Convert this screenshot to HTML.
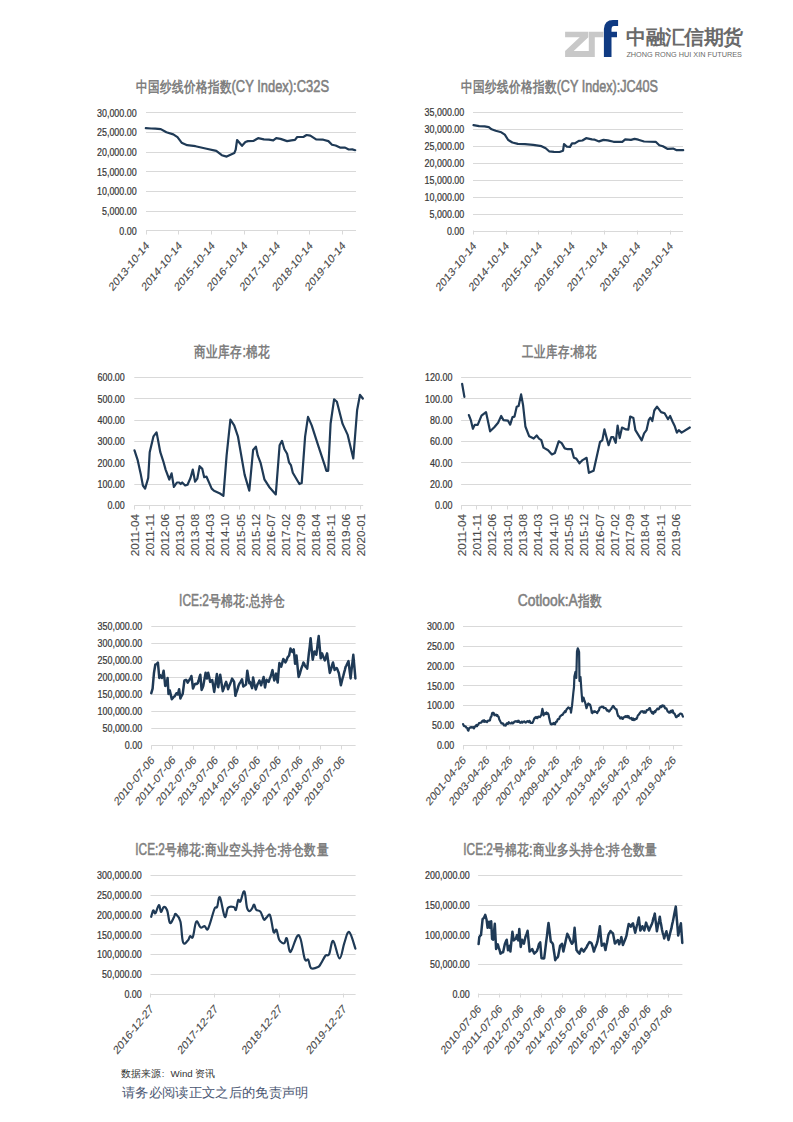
<!DOCTYPE html><html><head><meta charset="utf-8"><style>html,body{margin:0;padding:0;background:#fff;width:793px;height:1122px;overflow:hidden}svg{display:block}</style></head><body>
<svg width="793" height="1122" viewBox="0 0 793 1122" font-family="&quot;Liberation Sans&quot;, sans-serif">
<text transform="translate(136.00,92) scale(1,1.25)" font-size="12.3" font-weight="bold" fill="#7f7f7f" stroke="#7f7f7f" stroke-width="0" textLength="95.55" lengthAdjust="spacingAndGlyphs">中国纱线价格指数</text>
<text transform="translate(231.55,92) scale(1,1.25)" font-size="12.5" fill="#7f7f7f" stroke="#7f7f7f" stroke-width="0.45" textLength="97.45" lengthAdjust="spacingAndGlyphs">(CY Index):C32S</text>
<line x1="146" y1="112.5" x2="356" y2="112.5" stroke="#d9d9d9" stroke-width="1"/>
<text transform="translate(97.0,116.6) scale(1,1.23)" font-size="9" fill="#383838" stroke="#383838" stroke-width="0.2" textLength="39.7" lengthAdjust="spacingAndGlyphs">30,000.00</text>
<line x1="146" y1="132.5" x2="356" y2="132.5" stroke="#d9d9d9" stroke-width="1"/>
<text transform="translate(97.0,136.2) scale(1,1.23)" font-size="9" fill="#383838" stroke="#383838" stroke-width="0.2" textLength="39.7" lengthAdjust="spacingAndGlyphs">25,000.00</text>
<line x1="146" y1="152.5" x2="356" y2="152.5" stroke="#d9d9d9" stroke-width="1"/>
<text transform="translate(97.0,155.9) scale(1,1.23)" font-size="9" fill="#383838" stroke="#383838" stroke-width="0.2" textLength="39.7" lengthAdjust="spacingAndGlyphs">20,000.00</text>
<line x1="146" y1="171.5" x2="356" y2="171.5" stroke="#d9d9d9" stroke-width="1"/>
<text transform="translate(97.0,175.6) scale(1,1.23)" font-size="9" fill="#383838" stroke="#383838" stroke-width="0.2" textLength="39.7" lengthAdjust="spacingAndGlyphs">15,000.00</text>
<line x1="146" y1="191.5" x2="356" y2="191.5" stroke="#d9d9d9" stroke-width="1"/>
<text transform="translate(97.0,195.2) scale(1,1.23)" font-size="9" fill="#383838" stroke="#383838" stroke-width="0.2" textLength="39.7" lengthAdjust="spacingAndGlyphs">10,000.00</text>
<line x1="146" y1="211.5" x2="356" y2="211.5" stroke="#d9d9d9" stroke-width="1"/>
<text transform="translate(102.0,214.8) scale(1,1.23)" font-size="9" fill="#383838" stroke="#383838" stroke-width="0.2" textLength="34.7" lengthAdjust="spacingAndGlyphs">5,000.00</text>
<line x1="146" y1="230.5" x2="356" y2="230.5" stroke="#d9d9d9" stroke-width="1"/>
<text transform="translate(119.3,234.5) scale(1,1.23)" font-size="9" fill="#383838" stroke="#383838" stroke-width="0.2" textLength="17.4" lengthAdjust="spacingAndGlyphs">0.00</text>
<line x1="146.5" y1="230.5" x2="146.5" y2="234.5" stroke="#d9d9d9" stroke-width="1"/>
<line x1="178.5" y1="230.5" x2="178.5" y2="234.5" stroke="#d9d9d9" stroke-width="1"/>
<line x1="211.5" y1="230.5" x2="211.5" y2="234.5" stroke="#d9d9d9" stroke-width="1"/>
<line x1="244.5" y1="230.5" x2="244.5" y2="234.5" stroke="#d9d9d9" stroke-width="1"/>
<line x1="277.5" y1="230.5" x2="277.5" y2="234.5" stroke="#d9d9d9" stroke-width="1"/>
<line x1="309.5" y1="230.5" x2="309.5" y2="234.5" stroke="#d9d9d9" stroke-width="1"/>
<line x1="342.5" y1="230.5" x2="342.5" y2="234.5" stroke="#d9d9d9" stroke-width="1"/>
<text transform="translate(149.8,246.3) scale(1,1.23) rotate(-45)" x="-52.3" y="0" font-size="9.6" fill="#4a4a4a" stroke="#4a4a4a" stroke-width="0.1" textLength="52.3" lengthAdjust="spacingAndGlyphs">2013-10-14</text>
<text transform="translate(182.5,246.3) scale(1,1.23) rotate(-45)" x="-52.3" y="0" font-size="9.6" fill="#4a4a4a" stroke="#4a4a4a" stroke-width="0.1" textLength="52.3" lengthAdjust="spacingAndGlyphs">2014-10-14</text>
<text transform="translate(215.2,246.3) scale(1,1.23) rotate(-45)" x="-52.3" y="0" font-size="9.6" fill="#4a4a4a" stroke="#4a4a4a" stroke-width="0.1" textLength="52.3" lengthAdjust="spacingAndGlyphs">2015-10-14</text>
<text transform="translate(247.9,246.3) scale(1,1.23) rotate(-45)" x="-52.3" y="0" font-size="9.6" fill="#4a4a4a" stroke="#4a4a4a" stroke-width="0.1" textLength="52.3" lengthAdjust="spacingAndGlyphs">2016-10-14</text>
<text transform="translate(280.6,246.3) scale(1,1.23) rotate(-45)" x="-52.3" y="0" font-size="9.6" fill="#4a4a4a" stroke="#4a4a4a" stroke-width="0.1" textLength="52.3" lengthAdjust="spacingAndGlyphs">2017-10-14</text>
<text transform="translate(313.3,246.3) scale(1,1.23) rotate(-45)" x="-52.3" y="0" font-size="9.6" fill="#4a4a4a" stroke="#4a4a4a" stroke-width="0.1" textLength="52.3" lengthAdjust="spacingAndGlyphs">2018-10-14</text>
<text transform="translate(346.0,246.3) scale(1,1.23) rotate(-45)" x="-52.3" y="0" font-size="9.6" fill="#4a4a4a" stroke="#4a4a4a" stroke-width="0.1" textLength="52.3" lengthAdjust="spacingAndGlyphs">2019-10-14</text>
<polyline points="145.8,128.2 151.1,128.5 155.3,128.6 160.8,129.1 166.4,132.3 173.3,134.4 177.5,137.2 181.6,142.7 187.2,145.2 195.5,146.2 206.6,148.7 216.3,150.8 221.8,155.2 226.7,156.6 234.3,153.1 235.7,149.7 237.1,140.0 242.0,145.8 245.4,142.0 247.9,141.1 253.7,140.8 258.1,138.2 263.9,139.4 268.9,139.7 273.3,140.4 276.2,138.2 280.5,138.9 287.1,141.1 291.4,140.4 295.0,139.9 297.2,137.0 303.7,136.8 306.6,135.0 310.3,135.6 316.1,139.4 323.3,139.7 328.4,141.1 332.0,144.7 335.6,145.5 340.0,147.6 345.1,147.6 348.7,149.5 352.3,149.4 355.2,150.2" fill="none" stroke="#1f3a56" stroke-width="2.2" stroke-linejoin="round" stroke-linecap="round"/>
<text transform="translate(460.60,92) scale(1,1.25)" font-size="12.3" font-weight="bold" fill="#7f7f7f" stroke="#7f7f7f" stroke-width="0" textLength="96.05" lengthAdjust="spacingAndGlyphs">中国纱线价格指数</text>
<text transform="translate(556.65,92) scale(1,1.25)" font-size="12.5" fill="#7f7f7f" stroke="#7f7f7f" stroke-width="0.45" textLength="101.35" lengthAdjust="spacingAndGlyphs">(CY Index):JC40S</text>
<line x1="473" y1="112.5" x2="683" y2="112.5" stroke="#d9d9d9" stroke-width="1"/>
<text transform="translate(424.6,116.4) scale(1,1.23)" font-size="9" fill="#383838" stroke="#383838" stroke-width="0.2" textLength="39.7" lengthAdjust="spacingAndGlyphs">35,000.00</text>
<line x1="473" y1="129.5" x2="683" y2="129.5" stroke="#d9d9d9" stroke-width="1"/>
<text transform="translate(424.6,133.3) scale(1,1.23)" font-size="9" fill="#383838" stroke="#383838" stroke-width="0.2" textLength="39.7" lengthAdjust="spacingAndGlyphs">30,000.00</text>
<line x1="473" y1="146.5" x2="683" y2="146.5" stroke="#d9d9d9" stroke-width="1"/>
<text transform="translate(424.6,150.2) scale(1,1.23)" font-size="9" fill="#383838" stroke="#383838" stroke-width="0.2" textLength="39.7" lengthAdjust="spacingAndGlyphs">25,000.00</text>
<line x1="473" y1="163.5" x2="683" y2="163.5" stroke="#d9d9d9" stroke-width="1"/>
<text transform="translate(424.6,167.1) scale(1,1.23)" font-size="9" fill="#383838" stroke="#383838" stroke-width="0.2" textLength="39.7" lengthAdjust="spacingAndGlyphs">20,000.00</text>
<line x1="473" y1="180.5" x2="683" y2="180.5" stroke="#d9d9d9" stroke-width="1"/>
<text transform="translate(424.6,184.1) scale(1,1.23)" font-size="9" fill="#383838" stroke="#383838" stroke-width="0.2" textLength="39.7" lengthAdjust="spacingAndGlyphs">15,000.00</text>
<line x1="473" y1="197.5" x2="683" y2="197.5" stroke="#d9d9d9" stroke-width="1"/>
<text transform="translate(424.6,201.0) scale(1,1.23)" font-size="9" fill="#383838" stroke="#383838" stroke-width="0.2" textLength="39.7" lengthAdjust="spacingAndGlyphs">10,000.00</text>
<line x1="473" y1="214.5" x2="683" y2="214.5" stroke="#d9d9d9" stroke-width="1"/>
<text transform="translate(429.6,217.9) scale(1,1.23)" font-size="9" fill="#383838" stroke="#383838" stroke-width="0.2" textLength="34.7" lengthAdjust="spacingAndGlyphs">5,000.00</text>
<line x1="473" y1="231.5" x2="683" y2="231.5" stroke="#d9d9d9" stroke-width="1"/>
<text transform="translate(446.9,234.8) scale(1,1.23)" font-size="9" fill="#383838" stroke="#383838" stroke-width="0.2" textLength="17.4" lengthAdjust="spacingAndGlyphs">0.00</text>
<line x1="473.5" y1="230.5" x2="473.5" y2="234.5" stroke="#d9d9d9" stroke-width="1"/>
<line x1="506.5" y1="230.5" x2="506.5" y2="234.5" stroke="#d9d9d9" stroke-width="1"/>
<line x1="538.5" y1="230.5" x2="538.5" y2="234.5" stroke="#d9d9d9" stroke-width="1"/>
<line x1="571.5" y1="230.5" x2="571.5" y2="234.5" stroke="#d9d9d9" stroke-width="1"/>
<line x1="604.5" y1="230.5" x2="604.5" y2="234.5" stroke="#d9d9d9" stroke-width="1"/>
<line x1="637.5" y1="230.5" x2="637.5" y2="234.5" stroke="#d9d9d9" stroke-width="1"/>
<line x1="670.5" y1="230.5" x2="670.5" y2="234.5" stroke="#d9d9d9" stroke-width="1"/>
<text transform="translate(476.8,246.6) scale(1,1.23) rotate(-45)" x="-52.3" y="0" font-size="9.6" fill="#4a4a4a" stroke="#4a4a4a" stroke-width="0.1" textLength="52.3" lengthAdjust="spacingAndGlyphs">2013-10-14</text>
<text transform="translate(509.6,246.6) scale(1,1.23) rotate(-45)" x="-52.3" y="0" font-size="9.6" fill="#4a4a4a" stroke="#4a4a4a" stroke-width="0.1" textLength="52.3" lengthAdjust="spacingAndGlyphs">2014-10-14</text>
<text transform="translate(542.4,246.6) scale(1,1.23) rotate(-45)" x="-52.3" y="0" font-size="9.6" fill="#4a4a4a" stroke="#4a4a4a" stroke-width="0.1" textLength="52.3" lengthAdjust="spacingAndGlyphs">2015-10-14</text>
<text transform="translate(575.2,246.6) scale(1,1.23) rotate(-45)" x="-52.3" y="0" font-size="9.6" fill="#4a4a4a" stroke="#4a4a4a" stroke-width="0.1" textLength="52.3" lengthAdjust="spacingAndGlyphs">2016-10-14</text>
<text transform="translate(608.0,246.6) scale(1,1.23) rotate(-45)" x="-52.3" y="0" font-size="9.6" fill="#4a4a4a" stroke="#4a4a4a" stroke-width="0.1" textLength="52.3" lengthAdjust="spacingAndGlyphs">2017-10-14</text>
<text transform="translate(640.8,246.6) scale(1,1.23) rotate(-45)" x="-52.3" y="0" font-size="9.6" fill="#4a4a4a" stroke="#4a4a4a" stroke-width="0.1" textLength="52.3" lengthAdjust="spacingAndGlyphs">2018-10-14</text>
<text transform="translate(673.6,246.6) scale(1,1.23) rotate(-45)" x="-52.3" y="0" font-size="9.6" fill="#4a4a4a" stroke="#4a4a4a" stroke-width="0.1" textLength="52.3" lengthAdjust="spacingAndGlyphs">2019-10-14</text>
<polyline points="473.5,125.1 479.1,126.1 484.6,126.4 488.8,127.2 491.6,129.3 495.7,130.7 501.3,132.3 504.8,134.7 508.2,140.0 512.4,142.5 517.9,143.9 524.9,144.1 533.2,144.8 541.5,146.2 545.7,148.3 549.1,151.3 554.0,151.8 559.6,152.0 563.0,150.8 564.0,144.1 566.8,146.6 570.0,146.9 572.0,143.4 574.8,143.4 578.8,140.8 582.4,140.5 586.1,138.2 591.9,139.4 594.8,139.7 599.1,141.4 603.5,139.9 607.8,140.4 613.6,141.8 622.3,141.8 625.2,139.4 631.0,139.9 634.6,138.9 638.3,139.7 644.1,141.5 655.7,141.8 659.3,145.2 662.9,146.2 667.3,148.8 673.1,148.6 676.7,150.2 683.2,150.2" fill="none" stroke="#1f3a56" stroke-width="2.2" stroke-linejoin="round" stroke-linecap="round"/>
<text transform="translate(194.40,357) scale(1,1.25)" font-size="12.3" font-weight="bold" fill="#7f7f7f" stroke="#7f7f7f" stroke-width="0" textLength="48.06" lengthAdjust="spacingAndGlyphs">商业库存</text>
<text transform="translate(242.46,357) scale(1,1.25)" font-size="12.5" fill="#7f7f7f" stroke="#7f7f7f" stroke-width="0.45" textLength="3.50" lengthAdjust="spacingAndGlyphs">:</text>
<text transform="translate(245.97,357) scale(1,1.25)" font-size="12.3" font-weight="bold" fill="#7f7f7f" stroke="#7f7f7f" stroke-width="0" textLength="24.03" lengthAdjust="spacingAndGlyphs">棉花</text>
<line x1="134.3" y1="377.5" x2="363.2" y2="377.5" stroke="#d9d9d9" stroke-width="1"/>
<text transform="translate(97.5,381.4) scale(1,1.23)" font-size="9" fill="#383838" stroke="#383838" stroke-width="0.2" textLength="27.3" lengthAdjust="spacingAndGlyphs">600.00</text>
<line x1="134.3" y1="398.5" x2="363.2" y2="398.5" stroke="#d9d9d9" stroke-width="1"/>
<text transform="translate(97.5,402.7) scale(1,1.23)" font-size="9" fill="#383838" stroke="#383838" stroke-width="0.2" textLength="27.3" lengthAdjust="spacingAndGlyphs">500.00</text>
<line x1="134.3" y1="420.5" x2="363.2" y2="420.5" stroke="#d9d9d9" stroke-width="1"/>
<text transform="translate(97.5,424.0) scale(1,1.23)" font-size="9" fill="#383838" stroke="#383838" stroke-width="0.2" textLength="27.3" lengthAdjust="spacingAndGlyphs">400.00</text>
<line x1="134.3" y1="441.5" x2="363.2" y2="441.5" stroke="#d9d9d9" stroke-width="1"/>
<text transform="translate(97.5,445.4) scale(1,1.23)" font-size="9" fill="#383838" stroke="#383838" stroke-width="0.2" textLength="27.3" lengthAdjust="spacingAndGlyphs">300.00</text>
<line x1="134.3" y1="462.5" x2="363.2" y2="462.5" stroke="#d9d9d9" stroke-width="1"/>
<text transform="translate(97.5,466.7) scale(1,1.23)" font-size="9" fill="#383838" stroke="#383838" stroke-width="0.2" textLength="27.3" lengthAdjust="spacingAndGlyphs">200.00</text>
<line x1="134.3" y1="484.5" x2="363.2" y2="484.5" stroke="#d9d9d9" stroke-width="1"/>
<text transform="translate(97.5,488.0) scale(1,1.23)" font-size="9" fill="#383838" stroke="#383838" stroke-width="0.2" textLength="27.3" lengthAdjust="spacingAndGlyphs">100.00</text>
<line x1="134.3" y1="505.5" x2="363.2" y2="505.5" stroke="#d9d9d9" stroke-width="1"/>
<text transform="translate(107.4,509.3) scale(1,1.23)" font-size="9" fill="#383838" stroke="#383838" stroke-width="0.2" textLength="17.4" lengthAdjust="spacingAndGlyphs">0.00</text>
<line x1="134.5" y1="505.5" x2="134.5" y2="509.5" stroke="#d9d9d9" stroke-width="1"/>
<line x1="149.5" y1="505.5" x2="149.5" y2="509.5" stroke="#d9d9d9" stroke-width="1"/>
<line x1="164.5" y1="505.5" x2="164.5" y2="509.5" stroke="#d9d9d9" stroke-width="1"/>
<line x1="179.5" y1="505.5" x2="179.5" y2="509.5" stroke="#d9d9d9" stroke-width="1"/>
<line x1="194.5" y1="505.5" x2="194.5" y2="509.5" stroke="#d9d9d9" stroke-width="1"/>
<line x1="209.5" y1="505.5" x2="209.5" y2="509.5" stroke="#d9d9d9" stroke-width="1"/>
<line x1="224.5" y1="505.5" x2="224.5" y2="509.5" stroke="#d9d9d9" stroke-width="1"/>
<line x1="239.5" y1="505.5" x2="239.5" y2="509.5" stroke="#d9d9d9" stroke-width="1"/>
<line x1="254.5" y1="505.5" x2="254.5" y2="509.5" stroke="#d9d9d9" stroke-width="1"/>
<line x1="269.5" y1="505.5" x2="269.5" y2="509.5" stroke="#d9d9d9" stroke-width="1"/>
<line x1="285.5" y1="505.5" x2="285.5" y2="509.5" stroke="#d9d9d9" stroke-width="1"/>
<line x1="300.5" y1="505.5" x2="300.5" y2="509.5" stroke="#d9d9d9" stroke-width="1"/>
<line x1="315.5" y1="505.5" x2="315.5" y2="509.5" stroke="#d9d9d9" stroke-width="1"/>
<line x1="330.5" y1="505.5" x2="330.5" y2="509.5" stroke="#d9d9d9" stroke-width="1"/>
<line x1="345.5" y1="505.5" x2="345.5" y2="509.5" stroke="#d9d9d9" stroke-width="1"/>
<line x1="360.5" y1="505.5" x2="360.5" y2="509.5" stroke="#d9d9d9" stroke-width="1"/>
<text transform="translate(139.0,513.9) scale(1,1.23) rotate(-90)" x="-34.5" y="0" font-size="10.2" fill="#4a4a4a" stroke="#4a4a4a" stroke-width="0.1" textLength="34.5" lengthAdjust="spacingAndGlyphs">2011-04</text>
<text transform="translate(154.1,513.9) scale(1,1.23) rotate(-90)" x="-34.5" y="0" font-size="10.2" fill="#4a4a4a" stroke="#4a4a4a" stroke-width="0.1" textLength="34.5" lengthAdjust="spacingAndGlyphs">2011-11</text>
<text transform="translate(169.1,513.9) scale(1,1.23) rotate(-90)" x="-34.5" y="0" font-size="10.2" fill="#4a4a4a" stroke="#4a4a4a" stroke-width="0.1" textLength="34.5" lengthAdjust="spacingAndGlyphs">2012-06</text>
<text transform="translate(184.2,513.9) scale(1,1.23) rotate(-90)" x="-34.5" y="0" font-size="10.2" fill="#4a4a4a" stroke="#4a4a4a" stroke-width="0.1" textLength="34.5" lengthAdjust="spacingAndGlyphs">2013-01</text>
<text transform="translate(199.3,513.9) scale(1,1.23) rotate(-90)" x="-34.5" y="0" font-size="10.2" fill="#4a4a4a" stroke="#4a4a4a" stroke-width="0.1" textLength="34.5" lengthAdjust="spacingAndGlyphs">2013-08</text>
<text transform="translate(214.3,513.9) scale(1,1.23) rotate(-90)" x="-34.5" y="0" font-size="10.2" fill="#4a4a4a" stroke="#4a4a4a" stroke-width="0.1" textLength="34.5" lengthAdjust="spacingAndGlyphs">2014-03</text>
<text transform="translate(229.4,513.9) scale(1,1.23) rotate(-90)" x="-34.5" y="0" font-size="10.2" fill="#4a4a4a" stroke="#4a4a4a" stroke-width="0.1" textLength="34.5" lengthAdjust="spacingAndGlyphs">2014-10</text>
<text transform="translate(244.5,513.9) scale(1,1.23) rotate(-90)" x="-34.5" y="0" font-size="10.2" fill="#4a4a4a" stroke="#4a4a4a" stroke-width="0.1" textLength="34.5" lengthAdjust="spacingAndGlyphs">2015-05</text>
<text transform="translate(259.6,513.9) scale(1,1.23) rotate(-90)" x="-34.5" y="0" font-size="10.2" fill="#4a4a4a" stroke="#4a4a4a" stroke-width="0.1" textLength="34.5" lengthAdjust="spacingAndGlyphs">2015-12</text>
<text transform="translate(274.6,513.9) scale(1,1.23) rotate(-90)" x="-34.5" y="0" font-size="10.2" fill="#4a4a4a" stroke="#4a4a4a" stroke-width="0.1" textLength="34.5" lengthAdjust="spacingAndGlyphs">2016-07</text>
<text transform="translate(289.7,513.9) scale(1,1.23) rotate(-90)" x="-34.5" y="0" font-size="10.2" fill="#4a4a4a" stroke="#4a4a4a" stroke-width="0.1" textLength="34.5" lengthAdjust="spacingAndGlyphs">2017-02</text>
<text transform="translate(304.8,513.9) scale(1,1.23) rotate(-90)" x="-34.5" y="0" font-size="10.2" fill="#4a4a4a" stroke="#4a4a4a" stroke-width="0.1" textLength="34.5" lengthAdjust="spacingAndGlyphs">2017-09</text>
<text transform="translate(319.8,513.9) scale(1,1.23) rotate(-90)" x="-34.5" y="0" font-size="10.2" fill="#4a4a4a" stroke="#4a4a4a" stroke-width="0.1" textLength="34.5" lengthAdjust="spacingAndGlyphs">2018-04</text>
<text transform="translate(334.9,513.9) scale(1,1.23) rotate(-90)" x="-34.5" y="0" font-size="10.2" fill="#4a4a4a" stroke="#4a4a4a" stroke-width="0.1" textLength="34.5" lengthAdjust="spacingAndGlyphs">2018-11</text>
<text transform="translate(350.0,513.9) scale(1,1.23) rotate(-90)" x="-34.5" y="0" font-size="10.2" fill="#4a4a4a" stroke="#4a4a4a" stroke-width="0.1" textLength="34.5" lengthAdjust="spacingAndGlyphs">2019-06</text>
<text transform="translate(365.1,513.9) scale(1,1.23) rotate(-90)" x="-34.5" y="0" font-size="10.2" fill="#4a4a4a" stroke="#4a4a4a" stroke-width="0.1" textLength="34.5" lengthAdjust="spacingAndGlyphs">2020-01</text>
<polyline points="134.5,450.4 137.6,459.8 140.6,473.4 142.9,485.5 145.1,488.6 148.2,478.0 149.7,452.2 153.5,436.3 156.5,432.3 157.2,435.6 160.3,452.2 163.3,461.3 165.6,469.6 169.3,479.5 171.6,473.4 173.9,487.0 176.9,482.5 179.2,482.5 180.7,484.0 182.2,482.5 185.2,485.5 187.5,484.8 190.5,478.0 192.8,469.6 195.1,481.7 197.3,478.7 199.6,466.2 202.3,468.9 204.2,477.2 206.4,476.5 211.7,488.6 214.0,490.8 220.0,493.5 223.4,495.8 226.6,455.7 230.4,419.7 234.2,425.4 238.0,436.7 244.6,474.6 249.3,490.6 253.1,450.0 255.9,446.6 257.8,455.7 260.7,463.2 264.4,479.3 269.2,486.9 275.8,494.4 279.6,445.3 282.0,440.9 284.3,449.0 287.1,453.8 289.0,462.3 290.9,465.1 292.8,472.7 299.4,484.0 301.7,483.1 305.1,436.7 308.0,416.9 311.7,425.4 318.4,446.2 325.0,466.1 326.3,470.8 328.2,470.8 330.6,423.5 334.1,399.3 336.9,401.8 342.6,423.9 347.7,434.9 353.3,458.5 357.1,410.3 360.0,394.8 362.8,398.5" fill="none" stroke="#1f3a56" stroke-width="2.2" stroke-linejoin="round" stroke-linecap="round"/>
<text transform="translate(522.40,357) scale(1,1.25)" font-size="12.3" font-weight="bold" fill="#7f7f7f" stroke="#7f7f7f" stroke-width="0" textLength="47.43" lengthAdjust="spacingAndGlyphs">工业库存</text>
<text transform="translate(569.83,357) scale(1,1.25)" font-size="12.5" fill="#7f7f7f" stroke="#7f7f7f" stroke-width="0.45" textLength="3.46" lengthAdjust="spacingAndGlyphs">:</text>
<text transform="translate(573.29,357) scale(1,1.25)" font-size="12.3" font-weight="bold" fill="#7f7f7f" stroke="#7f7f7f" stroke-width="0" textLength="23.71" lengthAdjust="spacingAndGlyphs">棉花</text>
<line x1="461.1" y1="377.5" x2="691.1" y2="377.5" stroke="#d9d9d9" stroke-width="1"/>
<text transform="translate(425.1,381.4) scale(1,1.23)" font-size="9" fill="#383838" stroke="#383838" stroke-width="0.2" textLength="27.3" lengthAdjust="spacingAndGlyphs">120.00</text>
<line x1="461.1" y1="398.5" x2="691.1" y2="398.5" stroke="#d9d9d9" stroke-width="1"/>
<text transform="translate(425.1,402.7) scale(1,1.23)" font-size="9" fill="#383838" stroke="#383838" stroke-width="0.2" textLength="27.3" lengthAdjust="spacingAndGlyphs">100.00</text>
<line x1="461.1" y1="420.5" x2="691.1" y2="420.5" stroke="#d9d9d9" stroke-width="1"/>
<text transform="translate(430.1,424.0) scale(1,1.23)" font-size="9" fill="#383838" stroke="#383838" stroke-width="0.2" textLength="22.3" lengthAdjust="spacingAndGlyphs">80.00</text>
<line x1="461.1" y1="441.5" x2="691.1" y2="441.5" stroke="#d9d9d9" stroke-width="1"/>
<text transform="translate(430.1,445.4) scale(1,1.23)" font-size="9" fill="#383838" stroke="#383838" stroke-width="0.2" textLength="22.3" lengthAdjust="spacingAndGlyphs">60.00</text>
<line x1="461.1" y1="462.5" x2="691.1" y2="462.5" stroke="#d9d9d9" stroke-width="1"/>
<text transform="translate(430.1,466.7) scale(1,1.23)" font-size="9" fill="#383838" stroke="#383838" stroke-width="0.2" textLength="22.3" lengthAdjust="spacingAndGlyphs">40.00</text>
<line x1="461.1" y1="484.5" x2="691.1" y2="484.5" stroke="#d9d9d9" stroke-width="1"/>
<text transform="translate(430.1,488.0) scale(1,1.23)" font-size="9" fill="#383838" stroke="#383838" stroke-width="0.2" textLength="22.3" lengthAdjust="spacingAndGlyphs">20.00</text>
<line x1="461.1" y1="505.5" x2="691.1" y2="505.5" stroke="#d9d9d9" stroke-width="1"/>
<text transform="translate(435.0,509.3) scale(1,1.23)" font-size="9" fill="#383838" stroke="#383838" stroke-width="0.2" textLength="17.4" lengthAdjust="spacingAndGlyphs">0.00</text>
<line x1="461.5" y1="505.5" x2="461.5" y2="509.5" stroke="#d9d9d9" stroke-width="1"/>
<line x1="476.5" y1="505.5" x2="476.5" y2="509.5" stroke="#d9d9d9" stroke-width="1"/>
<line x1="491.5" y1="505.5" x2="491.5" y2="509.5" stroke="#d9d9d9" stroke-width="1"/>
<line x1="507.5" y1="505.5" x2="507.5" y2="509.5" stroke="#d9d9d9" stroke-width="1"/>
<line x1="522.5" y1="505.5" x2="522.5" y2="509.5" stroke="#d9d9d9" stroke-width="1"/>
<line x1="537.5" y1="505.5" x2="537.5" y2="509.5" stroke="#d9d9d9" stroke-width="1"/>
<line x1="552.5" y1="505.5" x2="552.5" y2="509.5" stroke="#d9d9d9" stroke-width="1"/>
<line x1="568.5" y1="505.5" x2="568.5" y2="509.5" stroke="#d9d9d9" stroke-width="1"/>
<line x1="583.5" y1="505.5" x2="583.5" y2="509.5" stroke="#d9d9d9" stroke-width="1"/>
<line x1="598.5" y1="505.5" x2="598.5" y2="509.5" stroke="#d9d9d9" stroke-width="1"/>
<line x1="614.5" y1="505.5" x2="614.5" y2="509.5" stroke="#d9d9d9" stroke-width="1"/>
<line x1="629.5" y1="505.5" x2="629.5" y2="509.5" stroke="#d9d9d9" stroke-width="1"/>
<line x1="644.5" y1="505.5" x2="644.5" y2="509.5" stroke="#d9d9d9" stroke-width="1"/>
<line x1="660.5" y1="505.5" x2="660.5" y2="509.5" stroke="#d9d9d9" stroke-width="1"/>
<line x1="675.5" y1="505.5" x2="675.5" y2="509.5" stroke="#d9d9d9" stroke-width="1"/>
<text transform="translate(465.8,513.9) scale(1,1.23) rotate(-90)" x="-34.5" y="0" font-size="10.2" fill="#4a4a4a" stroke="#4a4a4a" stroke-width="0.1" textLength="34.5" lengthAdjust="spacingAndGlyphs">2011-04</text>
<text transform="translate(481.1,513.9) scale(1,1.23) rotate(-90)" x="-34.5" y="0" font-size="10.2" fill="#4a4a4a" stroke="#4a4a4a" stroke-width="0.1" textLength="34.5" lengthAdjust="spacingAndGlyphs">2011-11</text>
<text transform="translate(496.4,513.9) scale(1,1.23) rotate(-90)" x="-34.5" y="0" font-size="10.2" fill="#4a4a4a" stroke="#4a4a4a" stroke-width="0.1" textLength="34.5" lengthAdjust="spacingAndGlyphs">2012-06</text>
<text transform="translate(511.7,513.9) scale(1,1.23) rotate(-90)" x="-34.5" y="0" font-size="10.2" fill="#4a4a4a" stroke="#4a4a4a" stroke-width="0.1" textLength="34.5" lengthAdjust="spacingAndGlyphs">2013-01</text>
<text transform="translate(527.0,513.9) scale(1,1.23) rotate(-90)" x="-34.5" y="0" font-size="10.2" fill="#4a4a4a" stroke="#4a4a4a" stroke-width="0.1" textLength="34.5" lengthAdjust="spacingAndGlyphs">2013-08</text>
<text transform="translate(542.3,513.9) scale(1,1.23) rotate(-90)" x="-34.5" y="0" font-size="10.2" fill="#4a4a4a" stroke="#4a4a4a" stroke-width="0.1" textLength="34.5" lengthAdjust="spacingAndGlyphs">2014-03</text>
<text transform="translate(557.6,513.9) scale(1,1.23) rotate(-90)" x="-34.5" y="0" font-size="10.2" fill="#4a4a4a" stroke="#4a4a4a" stroke-width="0.1" textLength="34.5" lengthAdjust="spacingAndGlyphs">2014-10</text>
<text transform="translate(572.9,513.9) scale(1,1.23) rotate(-90)" x="-34.5" y="0" font-size="10.2" fill="#4a4a4a" stroke="#4a4a4a" stroke-width="0.1" textLength="34.5" lengthAdjust="spacingAndGlyphs">2015-05</text>
<text transform="translate(588.2,513.9) scale(1,1.23) rotate(-90)" x="-34.5" y="0" font-size="10.2" fill="#4a4a4a" stroke="#4a4a4a" stroke-width="0.1" textLength="34.5" lengthAdjust="spacingAndGlyphs">2015-12</text>
<text transform="translate(603.5,513.9) scale(1,1.23) rotate(-90)" x="-34.5" y="0" font-size="10.2" fill="#4a4a4a" stroke="#4a4a4a" stroke-width="0.1" textLength="34.5" lengthAdjust="spacingAndGlyphs">2016-07</text>
<text transform="translate(618.8,513.9) scale(1,1.23) rotate(-90)" x="-34.5" y="0" font-size="10.2" fill="#4a4a4a" stroke="#4a4a4a" stroke-width="0.1" textLength="34.5" lengthAdjust="spacingAndGlyphs">2017-02</text>
<text transform="translate(634.1,513.9) scale(1,1.23) rotate(-90)" x="-34.5" y="0" font-size="10.2" fill="#4a4a4a" stroke="#4a4a4a" stroke-width="0.1" textLength="34.5" lengthAdjust="spacingAndGlyphs">2017-09</text>
<text transform="translate(649.4,513.9) scale(1,1.23) rotate(-90)" x="-34.5" y="0" font-size="10.2" fill="#4a4a4a" stroke="#4a4a4a" stroke-width="0.1" textLength="34.5" lengthAdjust="spacingAndGlyphs">2018-04</text>
<text transform="translate(664.7,513.9) scale(1,1.23) rotate(-90)" x="-34.5" y="0" font-size="10.2" fill="#4a4a4a" stroke="#4a4a4a" stroke-width="0.1" textLength="34.5" lengthAdjust="spacingAndGlyphs">2018-11</text>
<text transform="translate(680.0,513.9) scale(1,1.23) rotate(-90)" x="-34.5" y="0" font-size="10.2" fill="#4a4a4a" stroke="#4a4a4a" stroke-width="0.1" textLength="34.5" lengthAdjust="spacingAndGlyphs">2019-06</text>
<polyline points="462.1,383.8 464.4,396.9" fill="none" stroke="#1f3a56" stroke-width="2.2" stroke-linejoin="round" stroke-linecap="round"/>
<polyline points="468.9,415.1 470.9,420.4 472.9,428.7 474.7,424.9 477.7,424.9 481.5,415.6 486.0,412.1 490.1,431.3 494.3,427.2 498.1,422.7 501.2,415.9 503.4,420.1 508.0,420.7 510.2,424.6 512.5,417.1 514.5,416.6 516.7,406.8 518.6,406.0 521.1,394.4 523.1,405.3 525.4,426.5 529.2,436.3 533.7,438.6 536.7,435.5 539.0,438.6 541.3,440.1 543.5,447.6 548.1,450.2 551.9,454.4 554.9,452.9 558.7,441.3 561.7,443.1 564.7,448.4 567.7,449.2 571.6,449.1 573.9,457.8 576.3,458.6 579.5,463.3 582.6,460.1 586.6,457.8 588.9,472.8 593.6,470.7 600.0,442.0 602.3,440.4 604.4,429.4 608.6,445.2 611.3,437.0 613.3,437.0 615.7,442.8 617.6,425.5 619.7,438.1 622.0,427.5 626.0,429.4 628.3,429.7 630.2,416.5 633.4,418.1 635.4,430.2 641.7,440.4 644.1,433.3 646.5,430.2 648.8,419.9 650.4,417.6 652.3,421.1 654.3,410.5 657.0,406.6 661.1,412.1 664.6,413.3 668.0,419.2 670.1,416.0 672.5,421.5 674.8,426.3 676.9,432.6 678.8,430.2 681.6,432.6 689.8,427.5" fill="none" stroke="#1f3a56" stroke-width="2.2" stroke-linejoin="round" stroke-linecap="round"/>
<text transform="translate(179.10,606) scale(1,1.25)" font-size="12.5" fill="#7f7f7f" stroke="#7f7f7f" stroke-width="0.45" textLength="29.75" lengthAdjust="spacingAndGlyphs">ICE:2</text>
<text transform="translate(208.85,606) scale(1,1.25)" font-size="12.3" font-weight="bold" fill="#7f7f7f" stroke="#7f7f7f" stroke-width="0" textLength="36.31" lengthAdjust="spacingAndGlyphs">号棉花</text>
<text transform="translate(245.16,606) scale(1,1.25)" font-size="12.5" fill="#7f7f7f" stroke="#7f7f7f" stroke-width="0.45" textLength="3.53" lengthAdjust="spacingAndGlyphs">:</text>
<text transform="translate(248.69,606) scale(1,1.25)" font-size="12.3" font-weight="bold" fill="#7f7f7f" stroke="#7f7f7f" stroke-width="0" textLength="36.31" lengthAdjust="spacingAndGlyphs">总持仓</text>
<line x1="151.3" y1="626.5" x2="355.6" y2="626.5" stroke="#d9d9d9" stroke-width="1"/>
<text transform="translate(97.5,630.2) scale(1,1.23)" font-size="9" fill="#383838" stroke="#383838" stroke-width="0.2" textLength="44.7" lengthAdjust="spacingAndGlyphs">350,000.00</text>
<line x1="151.3" y1="643.5" x2="355.6" y2="643.5" stroke="#d9d9d9" stroke-width="1"/>
<text transform="translate(97.5,647.2) scale(1,1.23)" font-size="9" fill="#383838" stroke="#383838" stroke-width="0.2" textLength="44.7" lengthAdjust="spacingAndGlyphs">300,000.00</text>
<line x1="151.3" y1="660.5" x2="355.6" y2="660.5" stroke="#d9d9d9" stroke-width="1"/>
<text transform="translate(97.5,664.1) scale(1,1.23)" font-size="9" fill="#383838" stroke="#383838" stroke-width="0.2" textLength="44.7" lengthAdjust="spacingAndGlyphs">250,000.00</text>
<line x1="151.3" y1="677.5" x2="355.6" y2="677.5" stroke="#d9d9d9" stroke-width="1"/>
<text transform="translate(97.5,681.1) scale(1,1.23)" font-size="9" fill="#383838" stroke="#383838" stroke-width="0.2" textLength="44.7" lengthAdjust="spacingAndGlyphs">200,000.00</text>
<line x1="151.3" y1="694.5" x2="355.6" y2="694.5" stroke="#d9d9d9" stroke-width="1"/>
<text transform="translate(97.5,698.1) scale(1,1.23)" font-size="9" fill="#383838" stroke="#383838" stroke-width="0.2" textLength="44.7" lengthAdjust="spacingAndGlyphs">150,000.00</text>
<line x1="151.3" y1="711.5" x2="355.6" y2="711.5" stroke="#d9d9d9" stroke-width="1"/>
<text transform="translate(97.5,715.1) scale(1,1.23)" font-size="9" fill="#383838" stroke="#383838" stroke-width="0.2" textLength="44.7" lengthAdjust="spacingAndGlyphs">100,000.00</text>
<line x1="151.3" y1="728.5" x2="355.6" y2="728.5" stroke="#d9d9d9" stroke-width="1"/>
<text transform="translate(102.5,732.0) scale(1,1.23)" font-size="9" fill="#383838" stroke="#383838" stroke-width="0.2" textLength="39.7" lengthAdjust="spacingAndGlyphs">50,000.00</text>
<line x1="151.3" y1="745.5" x2="355.6" y2="745.5" stroke="#d9d9d9" stroke-width="1"/>
<text transform="translate(124.8,749.0) scale(1,1.23)" font-size="9" fill="#383838" stroke="#383838" stroke-width="0.2" textLength="17.4" lengthAdjust="spacingAndGlyphs">0.00</text>
<line x1="151.5" y1="745.5" x2="151.5" y2="749.5" stroke="#d9d9d9" stroke-width="1"/>
<line x1="172.5" y1="745.5" x2="172.5" y2="749.5" stroke="#d9d9d9" stroke-width="1"/>
<line x1="193.5" y1="745.5" x2="193.5" y2="749.5" stroke="#d9d9d9" stroke-width="1"/>
<line x1="214.5" y1="745.5" x2="214.5" y2="749.5" stroke="#d9d9d9" stroke-width="1"/>
<line x1="236.5" y1="745.5" x2="236.5" y2="749.5" stroke="#d9d9d9" stroke-width="1"/>
<line x1="257.5" y1="745.5" x2="257.5" y2="749.5" stroke="#d9d9d9" stroke-width="1"/>
<line x1="278.5" y1="745.5" x2="278.5" y2="749.5" stroke="#d9d9d9" stroke-width="1"/>
<line x1="299.5" y1="745.5" x2="299.5" y2="749.5" stroke="#d9d9d9" stroke-width="1"/>
<line x1="320.5" y1="745.5" x2="320.5" y2="749.5" stroke="#d9d9d9" stroke-width="1"/>
<line x1="341.5" y1="745.5" x2="341.5" y2="749.5" stroke="#d9d9d9" stroke-width="1"/>
<text transform="translate(154.9,760.8) scale(1,1.23) rotate(-45)" x="-52.3" y="0" font-size="9.6" fill="#4a4a4a" stroke="#4a4a4a" stroke-width="0.1" textLength="52.3" lengthAdjust="spacingAndGlyphs">2010-07-06</text>
<text transform="translate(176.1,760.8) scale(1,1.23) rotate(-45)" x="-52.3" y="0" font-size="9.6" fill="#4a4a4a" stroke="#4a4a4a" stroke-width="0.1" textLength="52.3" lengthAdjust="spacingAndGlyphs">2011-07-06</text>
<text transform="translate(196.9,760.8) scale(1,1.23) rotate(-45)" x="-52.3" y="0" font-size="9.6" fill="#4a4a4a" stroke="#4a4a4a" stroke-width="0.1" textLength="52.3" lengthAdjust="spacingAndGlyphs">2012-07-06</text>
<text transform="translate(218.5,760.8) scale(1,1.23) rotate(-45)" x="-52.3" y="0" font-size="9.6" fill="#4a4a4a" stroke="#4a4a4a" stroke-width="0.1" textLength="52.3" lengthAdjust="spacingAndGlyphs">2013-07-06</text>
<text transform="translate(239.6,760.8) scale(1,1.23) rotate(-45)" x="-52.3" y="0" font-size="9.6" fill="#4a4a4a" stroke="#4a4a4a" stroke-width="0.1" textLength="52.3" lengthAdjust="spacingAndGlyphs">2014-07-06</text>
<text transform="translate(260.8,760.8) scale(1,1.23) rotate(-45)" x="-52.3" y="0" font-size="9.6" fill="#4a4a4a" stroke="#4a4a4a" stroke-width="0.1" textLength="52.3" lengthAdjust="spacingAndGlyphs">2015-07-06</text>
<text transform="translate(281.6,760.8) scale(1,1.23) rotate(-45)" x="-52.3" y="0" font-size="9.6" fill="#4a4a4a" stroke="#4a4a4a" stroke-width="0.1" textLength="52.3" lengthAdjust="spacingAndGlyphs">2016-07-06</text>
<text transform="translate(303.2,760.8) scale(1,1.23) rotate(-45)" x="-52.3" y="0" font-size="9.6" fill="#4a4a4a" stroke="#4a4a4a" stroke-width="0.1" textLength="52.3" lengthAdjust="spacingAndGlyphs">2017-07-06</text>
<text transform="translate(324.0,760.8) scale(1,1.23) rotate(-45)" x="-52.3" y="0" font-size="9.6" fill="#4a4a4a" stroke="#4a4a4a" stroke-width="0.1" textLength="52.3" lengthAdjust="spacingAndGlyphs">2018-07-06</text>
<text transform="translate(345.2,760.8) scale(1,1.23) rotate(-45)" x="-52.3" y="0" font-size="9.6" fill="#4a4a4a" stroke="#4a4a4a" stroke-width="0.1" textLength="52.3" lengthAdjust="spacingAndGlyphs">2019-07-06</text>
<polyline points="151.3,693.2 152.6,688.6 153.3,680.5 154.0,672.7 155.3,664.7 156.6,664.1 157.9,662.7 158.6,670.0 159.3,678.0 160.6,675.3 161.9,678.0 162.8,674.5 163.6,670.7 164.4,677.9 165.2,685.9 166.5,685.2 167.6,678.0 168.5,693.9 169.8,690.5 170.8,694.9 171.8,699.2 172.7,698.2 173.6,697.0 174.5,696.5 175.5,694.9 176.5,693.2 177.8,694.5 179.1,689.2 180.4,698.5 181.2,696.6 181.9,695.4 182.7,693.9 183.6,686.9 184.4,680.6 185.4,679.9 186.4,680.0 187.7,682.6 188.7,680.9 189.7,679.3 190.6,677.9 191.4,676.0 192.2,682.0 193.0,688.6 194.0,686.0 195.0,683.9 195.9,683.8 196.8,683.9 197.7,683.3 198.6,680.5 199.4,677.5 200.3,674.7 201.6,689.9 202.4,688.3 203.3,685.9 204.1,681.1 204.8,677.4 205.6,672.7 206.9,678.6 208.2,672.7 209.2,677.1 210.2,681.9 211.2,680.6 212.2,680.0 213.2,685.6 214.2,691.9 215.1,685.8 216.0,680.3 216.9,674.0 218.2,687.2 219.2,680.7 220.2,674.7 221.1,680.3 221.9,685.8 222.8,691.2 223.6,688.8 224.4,686.6 225.3,683.8 226.1,681.9 227.1,685.2 228.1,689.2 229.1,686.3 230.1,683.9 231.1,681.4 232.1,678.6 233.1,680.2 234.1,681.9 235.4,695.8 236.2,693.0 237.1,690.6 237.9,687.8 238.7,685.2 239.5,683.5 240.3,682.5 241.2,681.0 242.0,679.3 243.3,686.6 244.2,685.7 245.1,685.3 246.0,684.6 247.3,670.7 248.3,677.0 249.3,683.3 250.0,681.9 251.1,685.3 252.1,688.1 253.1,677.4 254.2,683.3 255.0,686.6 255.8,689.5 256.7,686.6 257.6,684.0 258.5,682.7 259.4,680.5 260.2,682.6 261.1,685.3 261.9,682.5 262.8,680.0 263.6,677.0 265.0,687.4 265.8,683.3 266.6,679.8 267.6,680.8 268.7,681.9 269.6,679.0 270.5,677.0 271.5,673.7 272.5,670.1 273.4,675.5 274.3,680.5 275.2,677.1 276.1,673.6 276.9,678.4 277.7,682.6 278.5,672.7 279.4,663.1 280.3,665.0 281.2,666.6 281.9,664.2 282.6,661.6 283.3,659.0 284.4,660.7 285.4,662.5 286.1,661.2 286.8,659.6 287.5,657.6 288.3,656.5 289.1,655.5 290.5,648.6 291.4,650.4 292.3,652.0 293.7,649.3 294.4,656.2 295.1,663.8 296.5,655.5 297.2,662.8 297.9,670.0 298.6,677.0 299.4,675.0 300.2,672.5 301.0,669.6 301.8,667.2 302.6,665.1 303.4,662.5 304.1,663.4 304.8,665.2 305.5,666.6 306.4,667.4 307.2,668.7 308.1,660.7 308.9,653.1 309.8,646.1 310.6,638.2 311.6,648.6 312.7,659.7 313.6,655.3 314.5,651.4 315.4,653.0 316.3,654.8 317.1,648.9 317.9,642.0 318.7,636.1 319.7,647.2 320.7,658.3 321.4,655.9 322.1,653.4 323.0,656.1 324.0,658.4 324.9,660.4 325.6,658.4 326.4,655.5 327.1,653.4 328.0,659.8 328.9,666.3 329.8,672.9 330.6,670.6 331.4,668.1 332.2,664.8 333.0,662.5 333.8,666.0 334.6,670.1 335.6,668.8 336.7,668.0 337.4,669.4 338.1,671.3 338.8,672.9 339.9,679.2 340.9,685.3 341.7,682.0 342.5,678.6 343.3,675.9 344.1,672.7 344.9,669.8 345.7,666.6 346.4,665.6 347.1,664.0 347.8,662.5 348.5,661.1 349.2,667.0 349.9,672.8 350.6,678.4 351.5,670.1 352.4,663.0 353.3,654.8 354.4,666.9 355.4,678.4" fill="none" stroke="#1f3a56" stroke-width="2.5" stroke-linejoin="round" stroke-linecap="round"/>
<text transform="translate(517.70,606) scale(1,1.25)" font-size="12.5" fill="#7f7f7f" stroke="#7f7f7f" stroke-width="0.45" textLength="60.07" lengthAdjust="spacingAndGlyphs">Cotlook:A</text>
<text transform="translate(577.77,606) scale(1,1.25)" font-size="12.3" font-weight="bold" fill="#7f7f7f" stroke="#7f7f7f" stroke-width="0" textLength="24.23" lengthAdjust="spacingAndGlyphs">指数</text>
<line x1="463" y1="626.5" x2="682.4" y2="626.5" stroke="#d9d9d9" stroke-width="1"/>
<text transform="translate(427.0,630.2) scale(1,1.23)" font-size="9" fill="#383838" stroke="#383838" stroke-width="0.2" textLength="27.3" lengthAdjust="spacingAndGlyphs">300.00</text>
<line x1="463" y1="646.5" x2="682.4" y2="646.5" stroke="#d9d9d9" stroke-width="1"/>
<text transform="translate(427.0,650.0) scale(1,1.23)" font-size="9" fill="#383838" stroke="#383838" stroke-width="0.2" textLength="27.3" lengthAdjust="spacingAndGlyphs">250.00</text>
<line x1="463" y1="666.5" x2="682.4" y2="666.5" stroke="#d9d9d9" stroke-width="1"/>
<text transform="translate(427.0,669.8) scale(1,1.23)" font-size="9" fill="#383838" stroke="#383838" stroke-width="0.2" textLength="27.3" lengthAdjust="spacingAndGlyphs">200.00</text>
<line x1="463" y1="685.5" x2="682.4" y2="685.5" stroke="#d9d9d9" stroke-width="1"/>
<text transform="translate(427.0,689.6) scale(1,1.23)" font-size="9" fill="#383838" stroke="#383838" stroke-width="0.2" textLength="27.3" lengthAdjust="spacingAndGlyphs">150.00</text>
<line x1="463" y1="705.5" x2="682.4" y2="705.5" stroke="#d9d9d9" stroke-width="1"/>
<text transform="translate(427.0,709.4) scale(1,1.23)" font-size="9" fill="#383838" stroke="#383838" stroke-width="0.2" textLength="27.3" lengthAdjust="spacingAndGlyphs">100.00</text>
<line x1="463" y1="725.5" x2="682.4" y2="725.5" stroke="#d9d9d9" stroke-width="1"/>
<text transform="translate(432.0,729.2) scale(1,1.23)" font-size="9" fill="#383838" stroke="#383838" stroke-width="0.2" textLength="22.3" lengthAdjust="spacingAndGlyphs">50.00</text>
<line x1="463" y1="745.5" x2="682.4" y2="745.5" stroke="#d9d9d9" stroke-width="1"/>
<text transform="translate(436.9,749.0) scale(1,1.23)" font-size="9" fill="#383838" stroke="#383838" stroke-width="0.2" textLength="17.4" lengthAdjust="spacingAndGlyphs">0.00</text>
<line x1="463.5" y1="745.5" x2="463.5" y2="749.5" stroke="#d9d9d9" stroke-width="1"/>
<line x1="486.5" y1="745.5" x2="486.5" y2="749.5" stroke="#d9d9d9" stroke-width="1"/>
<line x1="509.5" y1="745.5" x2="509.5" y2="749.5" stroke="#d9d9d9" stroke-width="1"/>
<line x1="533.5" y1="745.5" x2="533.5" y2="749.5" stroke="#d9d9d9" stroke-width="1"/>
<line x1="556.5" y1="745.5" x2="556.5" y2="749.5" stroke="#d9d9d9" stroke-width="1"/>
<line x1="579.5" y1="745.5" x2="579.5" y2="749.5" stroke="#d9d9d9" stroke-width="1"/>
<line x1="603.5" y1="745.5" x2="603.5" y2="749.5" stroke="#d9d9d9" stroke-width="1"/>
<line x1="626.5" y1="745.5" x2="626.5" y2="749.5" stroke="#d9d9d9" stroke-width="1"/>
<line x1="649.5" y1="745.5" x2="649.5" y2="749.5" stroke="#d9d9d9" stroke-width="1"/>
<line x1="673.5" y1="745.5" x2="673.5" y2="749.5" stroke="#d9d9d9" stroke-width="1"/>
<text transform="translate(466.6,760.8) scale(1,1.23) rotate(-45)" x="-52.3" y="0" font-size="9.6" fill="#4a4a4a" stroke="#4a4a4a" stroke-width="0.1" textLength="52.3" lengthAdjust="spacingAndGlyphs">2001-04-26</text>
<text transform="translate(490.0,760.8) scale(1,1.23) rotate(-45)" x="-52.3" y="0" font-size="9.6" fill="#4a4a4a" stroke="#4a4a4a" stroke-width="0.1" textLength="52.3" lengthAdjust="spacingAndGlyphs">2003-04-26</text>
<text transform="translate(513.1,760.8) scale(1,1.23) rotate(-45)" x="-52.3" y="0" font-size="9.6" fill="#4a4a4a" stroke="#4a4a4a" stroke-width="0.1" textLength="52.3" lengthAdjust="spacingAndGlyphs">2005-04-26</text>
<text transform="translate(536.6,760.8) scale(1,1.23) rotate(-45)" x="-52.3" y="0" font-size="9.6" fill="#4a4a4a" stroke="#4a4a4a" stroke-width="0.1" textLength="52.3" lengthAdjust="spacingAndGlyphs">2007-04-26</text>
<text transform="translate(560.0,760.8) scale(1,1.23) rotate(-45)" x="-52.3" y="0" font-size="9.6" fill="#4a4a4a" stroke="#4a4a4a" stroke-width="0.1" textLength="52.3" lengthAdjust="spacingAndGlyphs">2009-04-26</text>
<text transform="translate(583.1,760.8) scale(1,1.23) rotate(-45)" x="-52.3" y="0" font-size="9.6" fill="#4a4a4a" stroke="#4a4a4a" stroke-width="0.1" textLength="52.3" lengthAdjust="spacingAndGlyphs">2011-04-26</text>
<text transform="translate(606.6,760.8) scale(1,1.23) rotate(-45)" x="-52.3" y="0" font-size="9.6" fill="#4a4a4a" stroke="#4a4a4a" stroke-width="0.1" textLength="52.3" lengthAdjust="spacingAndGlyphs">2013-04-26</text>
<text transform="translate(630.0,760.8) scale(1,1.23) rotate(-45)" x="-52.3" y="0" font-size="9.6" fill="#4a4a4a" stroke="#4a4a4a" stroke-width="0.1" textLength="52.3" lengthAdjust="spacingAndGlyphs">2015-04-26</text>
<text transform="translate(653.1,760.8) scale(1,1.23) rotate(-45)" x="-52.3" y="0" font-size="9.6" fill="#4a4a4a" stroke="#4a4a4a" stroke-width="0.1" textLength="52.3" lengthAdjust="spacingAndGlyphs">2017-04-26</text>
<text transform="translate(676.6,760.8) scale(1,1.23) rotate(-45)" x="-52.3" y="0" font-size="9.6" fill="#4a4a4a" stroke="#4a4a4a" stroke-width="0.1" textLength="52.3" lengthAdjust="spacingAndGlyphs">2019-04-26</text>
<polyline points="463.1,724.1 463.8,725.7 464.6,726.2 465.3,726.3 465.9,726.9 466.5,727.8 467.2,728.0 467.8,730.0 468.4,730.6 469.0,728.7 469.7,727.7 470.3,727.7 470.9,727.2 471.5,727.2 472.1,727.7 472.8,727.2 473.4,727.2 474.0,728.4 474.6,727.0 475.2,726.3 475.8,726.3 476.4,725.0 477.0,726.2 477.6,724.8 478.3,724.6 479.0,723.1 479.8,722.9 480.5,722.7 481.2,722.6 481.9,721.7 482.6,720.6 483.4,721.6 484.1,720.2 484.8,721.8 485.6,721.1 486.3,721.7 487.0,722.2 487.7,720.9 488.4,720.5 489.2,720.6 489.9,720.5 490.6,717.5 491.4,716.4 492.1,713.2 492.8,712.8 493.6,712.9 494.3,715.3 495.0,714.7 495.6,715.1 496.2,714.6 496.8,715.8 497.4,715.1 498.0,716.5 498.6,716.8 499.3,719.5 500.1,720.9 500.8,722.2 501.5,723.4 502.1,723.2 502.7,723.8 503.3,723.7 503.9,725.4 504.5,725.2 505.1,725.5 505.7,725.6 506.3,724.0 507.0,723.2 507.6,724.0 508.2,723.8 508.8,722.2 509.4,723.1 510.0,723.2 510.6,723.4 511.3,723.4 511.9,722.5 512.5,723.3 513.1,723.4 513.7,722.7 514.4,721.7 515.0,721.3 515.7,721.6 516.3,721.2 516.9,721.8 517.6,722.0 518.2,720.7 518.8,720.9 519.4,722.2 520.0,722.6 520.7,722.8 521.3,721.8 521.9,721.7 522.5,722.6 523.1,721.8 523.8,721.6 524.4,721.4 525.0,722.2 525.7,722.6 526.3,722.3 527.0,721.3 527.6,721.2 528.2,721.7 528.9,722.2 529.5,720.8 530.2,722.3 530.8,723.0 531.4,722.9 532.1,723.0 532.7,722.6 533.4,720.9 534.2,718.6 534.9,717.6 535.5,718.1 536.1,717.0 536.7,717.9 537.4,718.2 538.0,716.8 538.6,716.7 539.2,716.8 539.9,717.1 540.7,715.9 541.4,714.7 542.4,708.9 543.0,711.4 543.6,715.4 544.3,713.9 545.0,713.2 545.8,714.1 546.5,712.5 547.2,713.9 547.9,713.2 548.6,714.7 549.3,718.6 550.1,722.0 550.8,724.1 551.4,724.4 552.0,723.8 552.6,724.2 553.2,723.3 553.8,723.0 554.4,724.1 555.0,724.3 555.6,722.7 556.2,721.6 556.9,721.7 557.5,719.7 558.1,719.0 558.7,719.2 559.3,718.5 559.9,716.6 560.5,716.1 561.2,715.5 561.8,714.8 562.4,715.0 563.0,714.2 563.6,712.9 564.2,712.5 564.9,711.2 565.5,712.1 566.1,710.5 566.8,709.1 567.6,708.3 568.3,707.4 569.1,707.9 569.8,708.8 570.6,708.2 571.0,712.7 572.1,705.2 573.3,693.0 574.0,687.0 574.4,676.4 575.5,671.8 576.3,677.9 577.0,651.4 577.8,648.3 578.5,650.0 579.1,652.1 579.5,680.9 580.5,677.1 581.6,693.0 582.3,701.4 582.9,700.4 583.5,697.6 584.2,699.9 585.0,702.1 585.8,705.2 586.5,708.2 587.1,706.4 587.7,704.4 588.4,703.5 589.0,704.7 589.6,704.3 590.3,705.2 591.0,707.9 591.8,712.7 592.4,713.1 593.0,711.4 593.6,711.7 594.2,712.0 594.8,711.2 595.6,712.0 596.3,712.1 597.1,713.1 597.7,712.0 598.3,710.9 599.0,710.3 599.6,707.7 600.2,707.4 600.9,707.4 601.6,706.6 602.3,707.0 603.0,706.7 603.7,708.1 604.3,707.7 605.0,708.1 605.7,708.2 606.4,709.5 607.1,710.5 607.7,710.1 608.4,711.2 609.1,711.6 609.8,710.7 610.4,709.7 611.1,709.2 611.8,707.7 612.4,706.9 613.1,705.9 613.8,706.5 614.5,708.2 615.1,708.4 615.8,709.4 616.5,709.3 617.4,713.7 618.2,716.1 618.8,716.0 619.5,717.0 620.1,718.3 620.8,718.4 621.4,717.3 622.1,717.7 622.7,718.9 623.3,718.3 624.0,717.1 624.6,717.0 625.3,716.2 625.9,717.1 626.6,717.0 627.2,715.9 627.9,717.3 628.6,716.1 629.2,717.9 629.9,718.3 630.6,718.4 631.3,717.8 631.9,719.6 632.6,719.9 633.2,718.4 633.9,720.2 634.5,719.1 635.2,719.5 635.9,718.6 636.6,718.8 637.2,717.5 637.9,715.2 638.6,715.0 639.4,713.7 640.1,712.8 640.9,711.6 641.5,711.4 642.2,711.2 642.8,711.7 643.5,712.7 644.1,711.3 644.8,712.7 645.4,712.7 646.1,711.8 646.7,710.1 647.4,710.1 648.1,710.0 648.7,709.0 649.4,708.2 650.0,708.2 650.7,711.1 651.3,711.6 652.0,713.0 652.6,712.0 653.3,713.8 654.0,712.5 654.7,711.2 655.3,712.1 656.0,710.2 656.7,709.9 657.3,708.6 658.0,708.7 658.6,709.3 659.2,708.6 659.9,706.8 660.5,706.1 661.1,707.2 661.8,706.0 662.4,705.3 663.1,706.4 663.7,705.7 664.4,706.3 665.0,708.3 665.7,708.4 666.3,708.3 667.0,709.9 667.7,711.6 668.4,711.6 669.1,712.7 669.8,712.7 670.6,711.0 671.3,712.0 672.1,710.4 672.7,710.4 673.4,713.1 674.0,713.2 674.7,713.9 675.3,715.4 676.0,717.2 676.6,717.2 677.2,716.2 677.9,715.4 678.5,715.8 679.2,714.7 679.8,713.9 680.5,713.5 681.1,713.8 682.0,714.3 682.9,716.7" fill="none" stroke="#1f3a56" stroke-width="2.2" stroke-linejoin="round" stroke-linecap="round"/>
<text transform="translate(135.30,855) scale(1,1.25)" font-size="12.5" fill="#7f7f7f" stroke="#7f7f7f" stroke-width="0.45" textLength="29.62" lengthAdjust="spacingAndGlyphs">ICE:2</text>
<text transform="translate(164.92,855) scale(1,1.25)" font-size="12.3" font-weight="bold" fill="#7f7f7f" stroke="#7f7f7f" stroke-width="0" textLength="36.15" lengthAdjust="spacingAndGlyphs">号棉花</text>
<text transform="translate(201.07,855) scale(1,1.25)" font-size="12.5" fill="#7f7f7f" stroke="#7f7f7f" stroke-width="0.45" textLength="3.51" lengthAdjust="spacingAndGlyphs">:</text>
<text transform="translate(204.59,855) scale(1,1.25)" font-size="12.3" font-weight="bold" fill="#7f7f7f" stroke="#7f7f7f" stroke-width="0" textLength="72.30" lengthAdjust="spacingAndGlyphs">商业空头持仓</text>
<text transform="translate(276.89,855) scale(1,1.25)" font-size="12.5" fill="#7f7f7f" stroke="#7f7f7f" stroke-width="0.45" textLength="3.51" lengthAdjust="spacingAndGlyphs">:</text>
<text transform="translate(280.40,855) scale(1,1.25)" font-size="12.3" font-weight="bold" fill="#7f7f7f" stroke="#7f7f7f" stroke-width="0" textLength="48.20" lengthAdjust="spacingAndGlyphs">持仓数量</text>
<line x1="150.5" y1="875.5" x2="355.6" y2="875.5" stroke="#d9d9d9" stroke-width="1"/>
<text transform="translate(97.1,879.4) scale(1,1.23)" font-size="9" fill="#383838" stroke="#383838" stroke-width="0.2" textLength="44.7" lengthAdjust="spacingAndGlyphs">300,000.00</text>
<line x1="150.5" y1="895.5" x2="355.6" y2="895.5" stroke="#d9d9d9" stroke-width="1"/>
<text transform="translate(97.1,899.1) scale(1,1.23)" font-size="9" fill="#383838" stroke="#383838" stroke-width="0.2" textLength="44.7" lengthAdjust="spacingAndGlyphs">250,000.00</text>
<line x1="150.5" y1="915.5" x2="355.6" y2="915.5" stroke="#d9d9d9" stroke-width="1"/>
<text transform="translate(97.1,918.9) scale(1,1.23)" font-size="9" fill="#383838" stroke="#383838" stroke-width="0.2" textLength="44.7" lengthAdjust="spacingAndGlyphs">200,000.00</text>
<line x1="150.5" y1="934.5" x2="355.6" y2="934.5" stroke="#d9d9d9" stroke-width="1"/>
<text transform="translate(97.1,938.6) scale(1,1.23)" font-size="9" fill="#383838" stroke="#383838" stroke-width="0.2" textLength="44.7" lengthAdjust="spacingAndGlyphs">150,000.00</text>
<line x1="150.5" y1="954.5" x2="355.6" y2="954.5" stroke="#d9d9d9" stroke-width="1"/>
<text transform="translate(97.1,958.3) scale(1,1.23)" font-size="9" fill="#383838" stroke="#383838" stroke-width="0.2" textLength="44.7" lengthAdjust="spacingAndGlyphs">100,000.00</text>
<line x1="150.5" y1="974.5" x2="355.6" y2="974.5" stroke="#d9d9d9" stroke-width="1"/>
<text transform="translate(102.1,978.1) scale(1,1.23)" font-size="9" fill="#383838" stroke="#383838" stroke-width="0.2" textLength="39.7" lengthAdjust="spacingAndGlyphs">50,000.00</text>
<line x1="150.5" y1="994.5" x2="355.6" y2="994.5" stroke="#d9d9d9" stroke-width="1"/>
<text transform="translate(124.4,997.8) scale(1,1.23)" font-size="9" fill="#383838" stroke="#383838" stroke-width="0.2" textLength="17.4" lengthAdjust="spacingAndGlyphs">0.00</text>
<line x1="150.5" y1="993.5" x2="150.5" y2="997.5" stroke="#d9d9d9" stroke-width="1"/>
<line x1="214.5" y1="993.5" x2="214.5" y2="997.5" stroke="#d9d9d9" stroke-width="1"/>
<line x1="279.5" y1="993.5" x2="279.5" y2="997.5" stroke="#d9d9d9" stroke-width="1"/>
<line x1="343.5" y1="993.5" x2="343.5" y2="997.5" stroke="#d9d9d9" stroke-width="1"/>
<text transform="translate(154.1,1009.6) scale(1,1.23) rotate(-45)" x="-52.3" y="0" font-size="9.6" fill="#4a4a4a" stroke="#4a4a4a" stroke-width="0.1" textLength="52.3" lengthAdjust="spacingAndGlyphs">2016-12-27</text>
<text transform="translate(218.5,1009.6) scale(1,1.23) rotate(-45)" x="-52.3" y="0" font-size="9.6" fill="#4a4a4a" stroke="#4a4a4a" stroke-width="0.1" textLength="52.3" lengthAdjust="spacingAndGlyphs">2017-12-27</text>
<text transform="translate(282.8,1009.6) scale(1,1.23) rotate(-45)" x="-52.3" y="0" font-size="9.6" fill="#4a4a4a" stroke="#4a4a4a" stroke-width="0.1" textLength="52.3" lengthAdjust="spacingAndGlyphs">2018-12-27</text>
<text transform="translate(347.1,1009.6) scale(1,1.23) rotate(-45)" x="-52.3" y="0" font-size="9.6" fill="#4a4a4a" stroke="#4a4a4a" stroke-width="0.1" textLength="52.3" lengthAdjust="spacingAndGlyphs">2019-12-27</text>
<path d="M151.2,916.8 C151.6,915.7 152.5,911.1 153.3,910.5 C154.1,909.9 154.4,914.3 155.4,913.3 C156.4,912.3 157.9,905.3 158.9,905.0 C159.9,904.7 160.1,911.5 161.0,911.9 C161.9,912.3 162.6,907.3 163.7,907.0 C164.8,906.7 166.1,907.6 167.2,910.5 C168.3,913.4 168.8,921.9 170.0,923.0 C171.2,924.1 173.1,918.4 174.1,916.8 C175.1,915.2 174.7,913.1 175.8,914.0 C176.9,914.9 179.1,916.5 180.4,921.6 C181.7,926.7 181.7,939.0 183.1,942.4 C184.5,945.8 186.7,941.4 188.0,940.3 C189.3,939.2 189.2,936.8 190.1,936.2 C191.0,935.6 191.8,939.5 192.9,936.9 C194.0,934.3 194.9,923.3 196.3,921.6 C197.7,919.9 199.0,926.6 200.5,927.4 C202.0,928.2 203.2,925.9 204.6,926.1 C206.0,926.3 206.3,931.7 208.1,928.6 C209.9,925.5 212.8,913.0 214.4,909.1 C216.0,905.2 216.1,909.1 217.1,907.0 C218.1,904.9 218.5,895.5 219.9,897.3 C221.3,899.1 223.3,914.9 224.8,916.8 C226.3,918.7 226.4,909.5 228.0,907.7 C229.6,905.9 232.4,906.6 233.8,907.0 C235.2,907.4 235.1,911.0 235.9,909.8 C236.7,908.6 237.4,901.6 238.2,900.1 C239.0,898.6 239.4,903.0 240.4,901.5 C241.4,900.0 242.6,893.0 243.5,891.8 C244.4,890.6 244.6,891.7 245.2,894.6 C245.8,897.5 246.2,904.7 247.0,907.7 C247.8,910.7 248.8,911.1 249.7,911.2 C250.6,911.3 251.3,909.6 252.1,908.4 C252.9,907.2 253.5,904.4 254.2,904.7 C254.9,905.0 255.1,908.6 256.2,909.8 C257.3,911.0 259.0,909.9 260.4,911.6 C261.8,913.3 262.8,918.4 263.9,919.5 C265.0,920.6 265.5,918.2 266.6,917.5 C267.7,916.8 268.8,912.8 270.1,915.4 C271.4,918.0 272.5,929.4 273.6,932.0 C274.7,934.6 275.4,928.3 276.4,929.7 C277.4,931.1 278.0,937.2 279.1,939.6 C280.2,942.0 281.6,942.5 282.6,943.1 C283.6,943.7 283.9,943.6 284.7,942.7 C285.5,941.8 285.9,936.9 286.8,938.3 C287.7,939.7 288.6,948.6 289.5,950.7 C290.4,952.8 290.2,952.7 291.6,950.1 C293.0,947.5 295.6,938.2 297.2,936.2 C298.8,934.2 299.2,934.9 300.6,939.0 C302.0,943.1 303.4,955.4 304.8,959.1 C306.2,962.8 307.2,958.2 308.3,959.8 C309.4,961.4 309.3,966.8 311.0,968.1 C312.7,969.4 316.3,967.9 318.0,967.1 C319.7,966.3 319.3,966.0 320.7,963.9 C322.1,961.8 324.1,957.3 325.6,955.6 C327.1,953.9 327.7,956.8 329.1,954.2 C330.5,951.6 331.3,940.2 333.2,941.0 C335.1,941.8 337.5,958.0 339.5,958.4 C341.5,958.8 342.6,947.9 344.3,943.1 C346.0,938.3 347.2,931.0 349.2,932.0 C351.2,933.0 354.3,945.7 355.4,948.7" fill="none" stroke="#1f3a56" stroke-width="2.2" stroke-linejoin="round" stroke-linecap="round"/>
<text transform="translate(463.30,855) scale(1,1.25)" font-size="12.5" fill="#7f7f7f" stroke="#7f7f7f" stroke-width="0.45" textLength="29.64" lengthAdjust="spacingAndGlyphs">ICE:2</text>
<text transform="translate(492.94,855) scale(1,1.25)" font-size="12.3" font-weight="bold" fill="#7f7f7f" stroke="#7f7f7f" stroke-width="0" textLength="36.17" lengthAdjust="spacingAndGlyphs">号棉花</text>
<text transform="translate(529.11,855) scale(1,1.25)" font-size="12.5" fill="#7f7f7f" stroke="#7f7f7f" stroke-width="0.45" textLength="3.52" lengthAdjust="spacingAndGlyphs">:</text>
<text transform="translate(532.62,855) scale(1,1.25)" font-size="12.3" font-weight="bold" fill="#7f7f7f" stroke="#7f7f7f" stroke-width="0" textLength="72.34" lengthAdjust="spacingAndGlyphs">商业多头持仓</text>
<text transform="translate(604.96,855) scale(1,1.25)" font-size="12.5" fill="#7f7f7f" stroke="#7f7f7f" stroke-width="0.45" textLength="3.52" lengthAdjust="spacingAndGlyphs">:</text>
<text transform="translate(608.48,855) scale(1,1.25)" font-size="12.3" font-weight="bold" fill="#7f7f7f" stroke="#7f7f7f" stroke-width="0" textLength="48.22" lengthAdjust="spacingAndGlyphs">持仓数量</text>
<line x1="478.1" y1="875.5" x2="682.4" y2="875.5" stroke="#d9d9d9" stroke-width="1"/>
<text transform="translate(425.1,879.4) scale(1,1.23)" font-size="9" fill="#383838" stroke="#383838" stroke-width="0.2" textLength="44.7" lengthAdjust="spacingAndGlyphs">200,000.00</text>
<line x1="478.1" y1="905.5" x2="682.4" y2="905.5" stroke="#d9d9d9" stroke-width="1"/>
<text transform="translate(425.1,909.0) scale(1,1.23)" font-size="9" fill="#383838" stroke="#383838" stroke-width="0.2" textLength="44.7" lengthAdjust="spacingAndGlyphs">150,000.00</text>
<line x1="478.1" y1="934.5" x2="682.4" y2="934.5" stroke="#d9d9d9" stroke-width="1"/>
<text transform="translate(425.1,938.6) scale(1,1.23)" font-size="9" fill="#383838" stroke="#383838" stroke-width="0.2" textLength="44.7" lengthAdjust="spacingAndGlyphs">100,000.00</text>
<line x1="478.1" y1="964.5" x2="682.4" y2="964.5" stroke="#d9d9d9" stroke-width="1"/>
<text transform="translate(430.1,968.2) scale(1,1.23)" font-size="9" fill="#383838" stroke="#383838" stroke-width="0.2" textLength="39.7" lengthAdjust="spacingAndGlyphs">50,000.00</text>
<line x1="478.1" y1="994.5" x2="682.4" y2="994.5" stroke="#d9d9d9" stroke-width="1"/>
<text transform="translate(452.4,997.8) scale(1,1.23)" font-size="9" fill="#383838" stroke="#383838" stroke-width="0.2" textLength="17.4" lengthAdjust="spacingAndGlyphs">0.00</text>
<line x1="478.5" y1="993.5" x2="478.5" y2="997.5" stroke="#d9d9d9" stroke-width="1"/>
<line x1="499.5" y1="993.5" x2="499.5" y2="997.5" stroke="#d9d9d9" stroke-width="1"/>
<line x1="520.5" y1="993.5" x2="520.5" y2="997.5" stroke="#d9d9d9" stroke-width="1"/>
<line x1="541.5" y1="993.5" x2="541.5" y2="997.5" stroke="#d9d9d9" stroke-width="1"/>
<line x1="562.5" y1="993.5" x2="562.5" y2="997.5" stroke="#d9d9d9" stroke-width="1"/>
<line x1="584.5" y1="993.5" x2="584.5" y2="997.5" stroke="#d9d9d9" stroke-width="1"/>
<line x1="605.5" y1="993.5" x2="605.5" y2="997.5" stroke="#d9d9d9" stroke-width="1"/>
<line x1="626.5" y1="993.5" x2="626.5" y2="997.5" stroke="#d9d9d9" stroke-width="1"/>
<line x1="647.5" y1="993.5" x2="647.5" y2="997.5" stroke="#d9d9d9" stroke-width="1"/>
<line x1="668.5" y1="993.5" x2="668.5" y2="997.5" stroke="#d9d9d9" stroke-width="1"/>
<text transform="translate(481.7,1009.6) scale(1,1.23) rotate(-45)" x="-52.3" y="0" font-size="9.6" fill="#4a4a4a" stroke="#4a4a4a" stroke-width="0.1" textLength="52.3" lengthAdjust="spacingAndGlyphs">2010-07-06</text>
<text transform="translate(502.9,1009.6) scale(1,1.23) rotate(-45)" x="-52.3" y="0" font-size="9.6" fill="#4a4a4a" stroke="#4a4a4a" stroke-width="0.1" textLength="52.3" lengthAdjust="spacingAndGlyphs">2011-07-06</text>
<text transform="translate(524.1,1009.6) scale(1,1.23) rotate(-45)" x="-52.3" y="0" font-size="9.6" fill="#4a4a4a" stroke="#4a4a4a" stroke-width="0.1" textLength="52.3" lengthAdjust="spacingAndGlyphs">2012-07-06</text>
<text transform="translate(545.3,1009.6) scale(1,1.23) rotate(-45)" x="-52.3" y="0" font-size="9.6" fill="#4a4a4a" stroke="#4a4a4a" stroke-width="0.1" textLength="52.3" lengthAdjust="spacingAndGlyphs">2013-07-06</text>
<text transform="translate(566.5,1009.6) scale(1,1.23) rotate(-45)" x="-52.3" y="0" font-size="9.6" fill="#4a4a4a" stroke="#4a4a4a" stroke-width="0.1" textLength="52.3" lengthAdjust="spacingAndGlyphs">2014-07-06</text>
<text transform="translate(587.6,1009.6) scale(1,1.23) rotate(-45)" x="-52.3" y="0" font-size="9.6" fill="#4a4a4a" stroke="#4a4a4a" stroke-width="0.1" textLength="52.3" lengthAdjust="spacingAndGlyphs">2015-07-06</text>
<text transform="translate(608.8,1009.6) scale(1,1.23) rotate(-45)" x="-52.3" y="0" font-size="9.6" fill="#4a4a4a" stroke="#4a4a4a" stroke-width="0.1" textLength="52.3" lengthAdjust="spacingAndGlyphs">2016-07-06</text>
<text transform="translate(630.0,1009.6) scale(1,1.23) rotate(-45)" x="-52.3" y="0" font-size="9.6" fill="#4a4a4a" stroke="#4a4a4a" stroke-width="0.1" textLength="52.3" lengthAdjust="spacingAndGlyphs">2017-07-06</text>
<text transform="translate(651.2,1009.6) scale(1,1.23) rotate(-45)" x="-52.3" y="0" font-size="9.6" fill="#4a4a4a" stroke="#4a4a4a" stroke-width="0.1" textLength="52.3" lengthAdjust="spacingAndGlyphs">2018-07-06</text>
<text transform="translate(672.4,1009.6) scale(1,1.23) rotate(-45)" x="-52.3" y="0" font-size="9.6" fill="#4a4a4a" stroke="#4a4a4a" stroke-width="0.1" textLength="52.3" lengthAdjust="spacingAndGlyphs">2019-07-06</text>
<polyline points="478.6,944.1 479.3,937.1 480.1,935.8 481.0,935.1 481.8,927.0 482.6,919.2 483.9,917.9 485.2,914.9 485.9,917.2 486.6,919.8 487.6,927.8 489.0,921.8 489.9,927.8 491.2,921.2 492.1,939.0 493.2,939.7 494.0,932.0 494.8,923.8 496.1,949.0 497.0,946.5 497.8,944.3 498.7,947.4 499.6,950.2 500.5,953.6 501.4,953.0 502.2,952.3 503.1,952.3 504.0,948.1 504.8,944.3 505.8,941.6 506.7,939.7 508.0,950.3 508.9,948.2 509.7,945.7 510.4,951.6 511.4,941.7 512.4,931.8 513.7,940.4 514.7,939.4 515.7,939.0 517.0,935.1 518.3,940.4 519.3,929.1 520.0,938.0 520.7,947.0 522.1,939.7 523.0,942.1 523.9,943.7 524.8,939.7 525.6,936.4 526.6,933.9 527.6,930.8 528.6,941.1 529.6,951.6 530.5,950.7 531.3,950.2 532.2,949.0 533.2,951.2 534.2,953.6 535.1,952.7 536.0,952.0 536.9,951.0 537.9,948.1 538.9,944.3 540.2,942.4 541.5,958.2 542.4,958.1 543.3,958.5 544.2,958.2 545.2,950.1 546.2,941.7 547.0,935.6 547.7,929.1 548.5,922.9 549.3,929.0 550.0,935.0 550.8,941.7 551.5,942.2 552.3,943.0 553.0,944.3 553.7,949.8 554.5,954.7 555.2,960.2 555.9,958.9 556.7,957.9 557.4,957.6 558.1,956.3 559.1,951.3 560.1,945.7 561.0,944.9 562.0,943.7 563.4,951.6 564.2,947.8 565.0,944.2 565.7,940.7 566.5,937.3 567.3,933.8 568.1,935.1 568.9,937.1 569.6,938.5 570.4,940.8 571.2,942.5 572.0,943.7 573.3,941.7 574.6,927.8 575.5,939.0 576.5,950.1 577.2,950.8 578.0,952.3 578.7,952.6 579.4,953.7 580.1,951.9 580.8,949.9 581.5,948.7 582.2,949.6 583.0,950.6 583.7,951.6 584.4,950.5 585.2,949.1 585.9,948.3 586.6,947.2 587.3,945.5 588.0,944.4 588.8,943.0 589.5,942.1 590.2,942.5 591.0,942.7 591.7,943.6 592.4,945.8 593.2,948.8 593.9,951.6 594.6,949.3 595.3,947.6 596.1,945.5 596.8,943.7 597.5,941.4 598.3,936.5 599.1,931.5 599.9,926.2 600.8,936.3 601.8,945.8 602.5,945.0 603.3,944.2 604.0,943.6 604.8,947.3 605.5,950.1 606.2,946.0 607.0,942.7 607.7,938.8 608.4,934.9 609.1,933.2 609.8,932.6 610.5,931.0 611.3,932.2 612.2,932.7 613.0,933.4 614.0,938.7 614.9,943.6 615.6,943.0 616.3,941.5 617.1,940.9 617.8,940.0 618.5,942.2 619.2,944.3 619.9,942.2 620.7,939.8 621.4,937.1 622.1,941.3 622.9,945.0 623.6,943.2 624.3,941.6 625.1,939.5 625.8,937.7 626.5,935.6 627.2,931.5 628.0,927.4 628.7,924.0 629.8,925.0 630.8,926.6 631.5,925.4 632.3,924.0 633.0,923.3 633.7,926.7 634.5,929.6 635.2,932.7 635.9,929.8 636.6,926.7 637.4,923.7 638.1,920.5 638.8,917.5 639.5,923.6 640.3,930.5 641.0,929.3 641.7,927.9 642.4,926.2 643.3,928.4 644.3,930.5 645.2,926.6 646.1,922.6 646.8,924.7 647.5,926.2 648.3,928.7 649.0,930.5 649.7,928.7 650.5,926.9 651.2,925.4 651.9,924.0 652.6,921.6 653.3,918.5 654.1,916.4 654.8,913.6 655.5,919.9 656.2,925.4 656.9,931.3 657.6,927.6 658.3,924.0 659.1,920.6 659.8,916.8 660.5,921.4 661.3,925.6 662.0,929.8 662.7,932.8 663.5,935.2 664.2,938.5 664.9,935.8 665.7,933.5 666.4,931.3 667.1,934.4 667.8,936.9 668.5,940.0 669.2,937.2 670.0,933.8 670.7,930.9 671.4,928.4 672.1,924.6 672.9,921.3 673.6,917.7 674.3,914.0 675.1,910.0 675.8,906.6 676.6,916.3 677.4,925.9 678.2,935.6 679.1,931.5 680.0,927.1 680.9,923.3 682.3,942.9" fill="none" stroke="#1f3a56" stroke-width="2.5" stroke-linejoin="round" stroke-linecap="round"/>

<path d="M565.1,31.7 L588.3,31.7 L588.3,37.2 L573.7,50.9 L594.8,50.9 L594.8,56.9 L565.1,56.9 L565.1,50.9 L579.7,37.2 L565.1,37.2 Z" fill="#c8c8c8"/>
<path d="M588.8,31.7 L603.4,31.7 L603.4,37.2 L594.8,37.2 L594.8,50.9 L588.8,50.9 Z" fill="#c8c8c8"/>
<path d="M603.9,56.9 L603.9,29 Q604.5,20.1 613,20.1 L618.1,20.1 L618.1,26.1 L614,26.1 Q611.5,26.1 611.5,29.5 L611.5,31.7 L617,31.7 L617,37.2 L611.5,37.2 L611.5,56.9 Z" fill="#0f3a82"/>
<text transform="translate(626.2,43.6) scale(1,1.04)" font-size="19" fill="#6a6a6a" font-weight="bold" textLength="116" lengthAdjust="spacingAndGlyphs">中融汇信期货</text>
<text transform="translate(626.4,56.8) scale(1,1.08)" font-size="7" fill="#6a6a6a" textLength="115.5" lengthAdjust="spacingAndGlyphs">ZHONG RONG HUI XIN FUTURES</text>
<text x="121" y="1077" font-size="9.8" fill="#333" textLength="39.5" lengthAdjust="spacingAndGlyphs">数据来源</text>
<text x="161.8" y="1076.6" font-size="9.6" fill="#555">:</text>
<text x="170.6" y="1077" font-size="9.8" fill="#333" textLength="44.6" lengthAdjust="spacingAndGlyphs">Wind 资讯</text>
<text x="122" y="1097.3" font-size="13.3" fill="#4b5773" textLength="186.8" lengthAdjust="spacingAndGlyphs">请务必阅读正文之后的免责声明</text>

</svg></body></html>
